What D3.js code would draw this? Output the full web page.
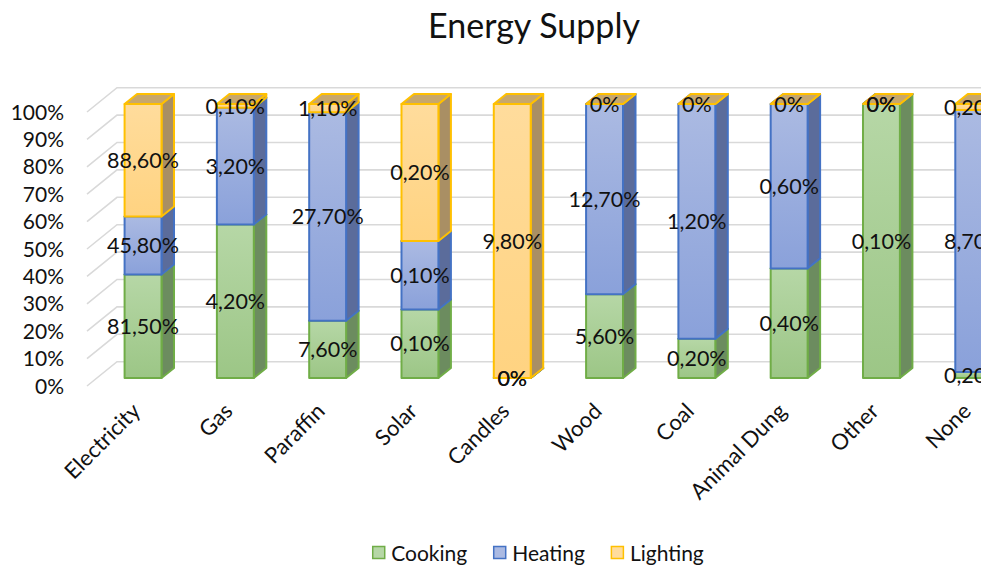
<!DOCTYPE html>
<html>
<head>
<meta charset="utf-8">
<script src="https://cdn.jsdelivr.net/npm/d3@7"></script>
<style>
  html, body { margin: 0; padding: 0; background: #fff; }
  svg { display: block; font-family: Lato, "Open Sans", sans-serif; }
</style>
</head>
<body>
<svg id="chart" width="981" height="565"></svg>
<script>
// Energy sources and the share of households using each for a purpose
const categories = ["Electricity", "Gas", "Paraffin", "Solar", "Candles", "Wood", "Coal", "Animal Dung", "Other", "None"];
const cooking  = [81.5, 4.2, 7.6, 0.1, 0, 5.6, 0.2, 0.4, 0.1, 0.2];
const heating  = [45.8, 3.2, 27.7, 0.1, 0, 12.7, 1.2, 0.6, 0, 8.7];
const lighting = [88.6, 0.1, 1.1, 0.2, 9.8, 0, 0, 0, 0, 0.2];
const seriesNames = ["Cooking", "Heating", "Lighting"];
const yTicks = [0, 10, 20, 30, 40, 50, 60, 70, 80, 90, 100];

const W = 981, H = 565;
const svg = d3.select("#chart");

const rows = categories.map((c, i) => ({
  category: c, Cooking: cooking[i], Heating: heating[i], Lighting: lighting[i]
}));
const stacked = d3.stack().keys(seriesNames).offset(d3.stackOffsetExpand)(rows);

// front plane of the plot box
const x = d3.scaleBand().domain(categories).range([87, 1010]).paddingInner(0.6).paddingOuter(0.3);
const y = d3.scaleLinear().domain([0, 100]).range([386, 112]);

// oblique depth of the floor / walls and of the columns
const wallDX = 30, wallDY = -24.3;
const barOffX = 9.9, barOffY = -8;
const barDX = 12.5, barDY = -10;

const style = {
  Cooking:  { stroke: "#70ad47", top: "#b6d7a6", bottom: "#9cc686", side: "#6c8c5f", cap: "#86a874" },
  Heating:  { stroke: "#4472c4", top: "#abbae2", bottom: "#8aa1da", side: "#5b6c9b", cap: "#7386b4" },
  Lighting: { stroke: "#ffc000", top: "#ffdc9c", bottom: "#ffd381", side: "#a98f64", cap: "#c7a76c" }
};

const defs = svg.append("defs");
seriesNames.forEach(k => {
  const g = defs.append("linearGradient").attr("id", "g-" + k)
    .attr("x1", 0).attr("y1", 0).attr("x2", 0).attr("y2", 1);
  g.append("stop").attr("offset", "0%").attr("stop-color", style[k].top);
  g.append("stop").attr("offset", "100%").attr("stop-color", style[k].bottom);
});

// title
svg.append("text")
  .attr("x", 534).attr("y", 38)
  .attr("text-anchor", "middle")
  .attr("font-size", 34).attr("fill", "#111")
  .text("Energy Supply");

// gridlines on the left wall and back wall
const grid = svg.append("g").attr("fill", "none").attr("stroke", "#d9d9d9").attr("stroke-width", 1.6);
yTicks.forEach(v => {
  const y0 = y(v);
  grid.append("path").attr("d", `M87,${y0} L${87 + wallDX},${y0 + wallDY} L${W},${y0 + wallDY}`);
});

// value axis labels
const pct = d3.format("d");
svg.append("g").selectAll("text").data(yTicks).join("text")
  .attr("x", 64).attr("y", d => y(d))
  .attr("dy", "0.36em")
  .attr("text-anchor", "end")
  .attr("font-size", 21).attr("fill", "#111")
  .text(d => pct(d) + "%");

// 3D stacked columns
const bars = svg.append("g").attr("stroke-width", 2).attr("stroke-linejoin", "round");
categories.forEach((c, i) => {
  const x0 = x(c) + barOffX, w = x.bandwidth();
  stacked.forEach(layer => {
    const k = layer.key, s = style[k];
    const seg = layer[i];
    const yb = y(seg[0] * 100) + barOffY, yt = y(seg[1] * 100) + barOffY;
    const g = bars.append("g").attr("stroke", s.stroke);
    g.append("polygon").attr("fill", s.side)
      .attr("points", [[x0 + w, yt], [x0 + w + barDX, yt + barDY], [x0 + w + barDX, yb + barDY], [x0 + w, yb]].join(" "));
    g.append("polygon").attr("fill", s.cap)
      .attr("points", [[x0, yt], [x0 + barDX, yt + barDY], [x0 + w + barDX, yt + barDY], [x0 + w, yt]].join(" "));
    g.append("rect").attr("x", x0).attr("y", yt).attr("width", w).attr("height", yb - yt)
      .attr("fill", yb - yt > 0.5 ? `url(#g-${k})` : s.bottom);
  });
});

// data labels (source values, comma decimals)
const locale = d3.formatLocale({ decimal: ",", thousands: ".", grouping: [3], currency: ["", ""] });
const f2 = locale.format(".2f");
const labelText = v => v === 0 ? "0%" : f2(v) + "%";
const values = { Cooking: cooking, Heating: heating, Lighting: lighting };
const labels = svg.append("g").attr("font-size", 21.5).attr("fill", "#111").attr("text-anchor", "middle");
stacked.forEach(layer => {
  categories.forEach((c, i) => {
    const seg = layer[i];
    const yb = y(seg[0] * 100) + barOffY, yt = y(seg[1] * 100) + barOffY;
    labels.append("text")
      .attr("x", x(c) + barOffX + x.bandwidth() / 2)
      .attr("y", (yb + yt) / 2)
      .attr("dy", "0.36em")
      .text(labelText(values[layer.key][i]));
  });
});

// category axis labels
svg.append("g").selectAll("text").data(categories).join("text")
  .attr("transform", d => `translate(${x(d) + barOffX + x.bandwidth() / 2 - 7},${407}) rotate(-45)`)
  .attr("dy", "0.36em")
  .attr("text-anchor", "end")
  .attr("font-size", 22).attr("fill", "#111")
  .text(d => d);

// legend
const legend = svg.append("g");
let lx = 0;
seriesNames.forEach(k => {
  const item = legend.append("g").attr("transform", `translate(${lx},0)`);
  item.append("rect").attr("x", 0.5).attr("y", -6.5).attr("width", 12).attr("height", 12)
    .attr("fill", style[k].top).attr("stroke", style[k].stroke).attr("stroke-width", 1.5);
  const t = item.append("text").attr("x", 19).attr("y", 0).attr("dy", "0.36em")
    .attr("font-size", 21).attr("fill", "#111").text(k);
  lx += 19 + t.node().getComputedTextLength() + 26;
});
lx -= 26;
legend.attr("transform", `translate(${538 - lx / 2},553)`);
</script>
</body>
</html>
